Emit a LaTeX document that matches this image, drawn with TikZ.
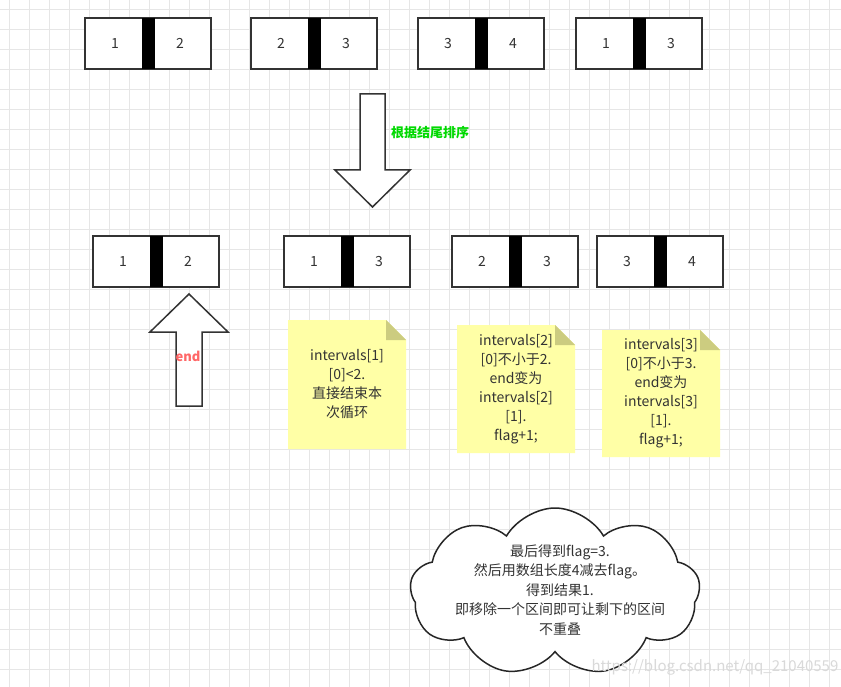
\documentclass[tikz,border=0pt]{standalone}
\usepackage{fontspec}
\setmainfont{Noto Sans CJK SC}
\usetikzlibrary{shapes.symbols}
\definecolor{notey}{HTML}{FFFFA6}
\definecolor{foldc}{HTML}{CCCC80}
\definecolor{gridc}{HTML}{E6E6E6}
\tikzset{
  ibox/.style={draw=black!80,line width=1.5pt,fill=white},
  bar/.style={fill=black},
  num/.style={font=\fontsize{14}{16}\selectfont,text=black!80},
  notetxt/.style={font=\fontsize{14}{19}\selectfont,align=center,text=black!80},
  bigarrow/.style={draw=black!80,line width=1.5pt,fill=white,line join=miter},
}
\newcommand{\ivbox}[4]{%
  \draw[ibox] (#1,#2) rectangle ++(126,51);
  \fill[bar] (#1+57,#2) rectangle ++(13,51);
  \node[num] at (#1+30,#2+25.5) {#3};
  \node[num] at (#1+95,#2+25.5) {#4};}
\newcommand{\note}[5]{%
  \fill[notey] (#1,#2) -- (#3-20,#2) -- (#3,#2+20) -- (#3,#4) -- (#1,#4) -- cycle;
  \fill[foldc] (#3-20,#2) -- (#3,#2+20) -- (#3-20,#2+20) -- cycle;
  \node[notetxt] at ({(#1+#3)/2},{(#2+#4)/2}) {#5};}
\begin{document}
\begin{tikzpicture}[x=1pt,y=-1pt]
\useasboundingbox (0,0) rectangle (841,687);
\fill[white] (0,0) rectangle (841,687);
\foreach \i in {0,...,42} {\draw[gridc,line width=0.6pt] (\i*20+9,0) -- (\i*20+9,687);}
\foreach \j in {0,...,34} {\draw[gridc,line width=0.6pt] (0,\j*20+9) -- (841,\j*20+9);}
\ivbox{85}{18}{1}{2}
\ivbox{251}{18}{2}{3}
\ivbox{418}{18}{3}{4}
\ivbox{576}{18}{1}{3}
\ivbox{93}{236}{1}{2}
\ivbox{284}{236}{1}{3}
\ivbox{452}{236}{2}{3}
\ivbox{597}{236}{3}{4}
\draw[bigarrow] (360,94) -- (385,94) -- (385,170) -- (410,170) -- (372.5,207) -- (335,170) -- (360,170) -- cycle;
\node[font=\bfseries\fontsize{13}{15}\selectfont,text=green!85!black] (lab1) at (430,133) {根据结尾排序};
\draw[bigarrow] (176,406) -- (202,406) -- (202,332) -- (228,332) -- (189,294) -- (150,332) -- (176,332) -- cycle;
\node[font=\bfseries\fontsize{13}{15}\selectfont,text=red!60] (lab2) at (188,356) {end};
\note{288}{320}{406}{449}{intervals[1]\\{}[0]<2.\\直接结束本\\次循环}
\note{457}{325}{575}{453}{intervals[2]\\{}[0]不小于2.\\end变为\\intervals[2]\\{}[1].\\flag+1;}
\note{602}{330}{720}{457}{intervals[3]\\{}[0]不小于3.\\end变为\\intervals[3]\\{}[1].\\flag+1;}
\node[cloud,cloud puffs=9,cloud puff arc=120,aspect=1.7,draw=black!85,line width=1.5pt,fill=white,minimum width=290pt,minimum height=168pt,inner sep=0pt] (cl) at (555,592) {};
\node[notetxt,font=\fontsize{14}{19.5}\selectfont] (ct) at (560,590) {最后得到flag=3.\\然后用数组长度4减去flag。\\得到结果1.\\即移除一个区间即可让剩下的区间\\不重叠};
\node[text=black!15,font=\fontsize{15}{17}\selectfont] (wm) at (715,667) {https://blog.csdn.net/qq\_21040559};
\end{tikzpicture}
\end{document}
